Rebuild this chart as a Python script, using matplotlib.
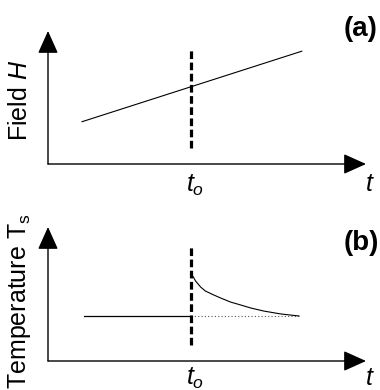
import matplotlib
matplotlib.use("Agg")
import matplotlib.pyplot as plt
from matplotlib.patches import FancyArrowPatch

plt.rcParams['font.family'] = ['Liberation Sans', 'DejaVu Sans']
plt.rcParams['mathtext.fontset'] = 'custom'
plt.rcParams['mathtext.rm'] = 'Liberation Sans'
plt.rcParams['mathtext.it'] = 'Liberation Sans:italic'
plt.rcParams['mathtext.bf'] = 'Liberation Sans:bold'

# ---- data (schematic units, axes span 0..10) ----
t0 = 4.51
field_t = [1.07, 7.98]
field_H = [3.18, 8.48]

temp_flat_t = [1.14, 4.51]
temp_flat_T = [3.36, 3.36]
temp_decay_t = [4.51, 4.57, 4.64, 4.80, 4.95, 5.21, 5.43, 5.74, 6.06, 6.37,
                6.78, 7.32, 7.89]
temp_decay_T = [6.49, 6.27, 5.97, 5.52, 5.22, 4.93, 4.70, 4.40, 4.18, 3.96,
                3.73, 3.51, 3.36]
temp_base_t = [4.51, 7.89]
temp_base_T = [3.36, 3.36]

W, H = 380, 390
fig = plt.figure(figsize=(W / 100, H / 100), dpi=100)


def make_axes(left_px, bottom_px, right_px, top_px):
    ax = fig.add_axes([left_px / W, 1 - bottom_px / H,
                       (right_px - left_px) / W, (bottom_px - top_px) / H])
    ax.set_xlim(0, 10)
    ax.set_ylim(0, 10)
    ax.axis('off')
    for tip in [(1, 0), (0, 1)]:
        arr = FancyArrowPatch((0, 0), tip, transform=ax.transAxes,
                              arrowstyle='-|>,head_length=14,head_width=6.3',
                              mutation_scale=1, lw=1.0, color='black',
                              shrinkA=0, shrinkB=0, clip_on=False)
        ax.add_patch(arr)
    return ax


ax1 = make_axes(48, 164, 366, 31)
ax1.plot(field_t, field_H, color='black', lw=0.8)
ax1.plot([t0, t0], [1.2, 8.75], color='black', lw=2.3, ls=(0, (2.4, 1.1)))

ax2 = make_axes(48, 361, 366, 227)
ax2.plot(temp_flat_t, temp_flat_T, color='black', lw=0.9)
ax2.plot(temp_base_t, temp_base_T, color='#555555', lw=0.8, ls=(0, (1, 2)))
ax2.plot(temp_decay_t, temp_decay_T, color='black', lw=0.8,
         solid_joinstyle='round')
ax2.plot([t0, t0], [1.2, 8.66], color='black', lw=2.3, ls=(0, (2.4, 1.1)))

fs = 18
fig.text(20 / W, 1 - 100 / H, 'Field $\\it{H}$', rotation=90, ha='center',
         va='center', fontsize=fs)
fig.text(20 / W, 1 - 301 / H, 'Temperature T$_\\mathrm{s}$', rotation=90,
         ha='center', va='center', fontsize=fs)
fig.text(361 / W, 1 - 29 / H, '(a)', ha='center', va='center', fontsize=20,
         fontweight='bold')
fig.text(361 / W, 1 - 243 / H, '(b)', ha='center', va='center', fontsize=20,
         fontweight='bold')
fig.text(370 / W, 1 - 184 / H, '$t$', ha='center', va='center', fontsize=fs)
fig.text(370 / W, 1 - 378 / H, '$t$', ha='center', va='center', fontsize=fs)
fig.text(195 / W, 1 - 185 / H, '$t_o$', ha='center', va='center', fontsize=fs)
fig.text(195 / W, 1 - 378 / H, '$t_o$', ha='center', va='center', fontsize=fs)

fig.savefig('out.png', dpi=100)
